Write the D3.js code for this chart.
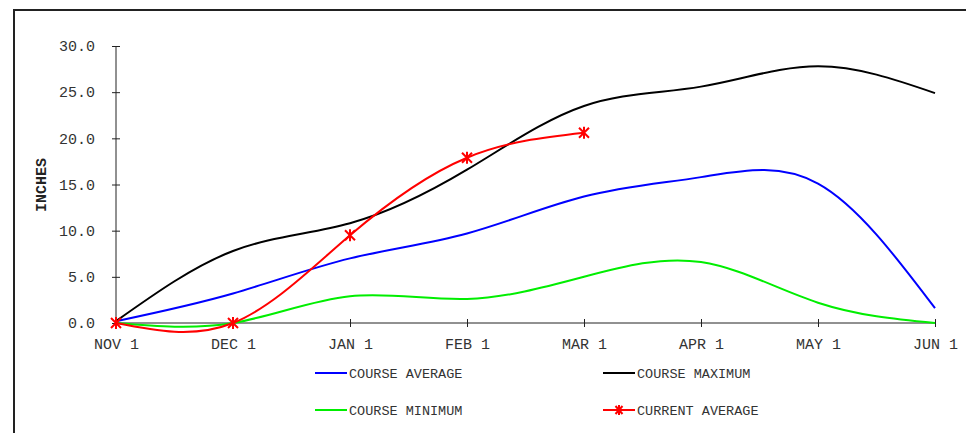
<html>
<head>
<meta charset="utf-8">
<script src="https://d3js.org/d3.v7.min.js"></script>
<style>
body { margin: 0; background: #fff; }
text { font-family: "Liberation Mono", "Courier New", monospace; fill: #333; }
</style>
</head>
<body>
<script>
var months = ["NOV 1", "DEC 1", "JAN 1", "FEB 1", "MAR 1", "APR 1", "MAY 1", "JUN 1"];
var yTicks = [0, 5, 10, 15, 20, 25, 30];

var courseAverage = [0.2, 3.2, 7.0, 9.7, 13.7, 15.8, 15.1, 1.6];
var courseMaximum = [0.2, 7.8, 10.8, 16.6, 23.5, 25.6, 27.8, 24.9];
var courseMinimum = [0.0, 0.0, 2.9, 2.6, 5.0, 6.6, 2.2, 0.0];
var currentAverage = [0.0, 0.0, 9.5, 17.9, 20.6];

var series = [
  {name: "COURSE AVERAGE", color: "#0000ff", values: courseAverage},
  {name: "COURSE MAXIMUM", color: "#000000", values: courseMaximum},
  {name: "COURSE MINIMUM", color: "#00ee00", values: courseMinimum},
  {name: "CURRENT AVERAGE", color: "#ff0000", values: currentAverage, marker: true}
];

var width = 966, height = 433;

var svg = d3.select("body").append("svg")
    .attr("width", width)
    .attr("height", height);

// frame
svg.append("rect")
    .attr("x", 14).attr("y", 10)
    .attr("width", 1000).attr("height", 500)
    .attr("fill", "none")
    .attr("stroke", "#222")
    .attr("stroke-width", 2);

var x = d3.scalePoint().domain(months).range([116, 935]);
var y = d3.scaleLinear().domain([0, 30]).range([323, 46]);

// y axis
var yAxis = svg.append("g")
    .attr("transform", "translate(116,0)")
    .call(d3.axisLeft(y).tickValues(yTicks).tickFormat(d3.format(".1f")).tickSize(4).tickPadding(17));
yAxis.selectAll(".tick line").attr("x1", 4).attr("x2", -4).attr("stroke", "#222");
yAxis.select(".domain").attr("stroke", "#222").attr("d", "M0," + y(30) + "V" + y(0));
yAxis.selectAll(".tick text")
    .style("font-family", "Liberation Mono, monospace")
    .style("font-size", "15px")
    .attr("fill", "#333");

// x axis
var xAxis = svg.append("g")
    .attr("transform", "translate(0," + y(0) + ")")
    .call(d3.axisBottom(x).tickSize(4).tickPadding(11));
xAxis.selectAll(".tick line").attr("y1", -4).attr("y2", 4).attr("stroke", "#222");
xAxis.select(".domain").attr("stroke", "#222").attr("d", "M" + x(months[0]) + ",0H" + x(months[months.length - 1]));
xAxis.selectAll(".tick text")
    .style("font-family", "Liberation Mono, monospace")
    .style("font-size", "15px")
    .attr("fill", "#333");

// y label
svg.append("text")
    .attr("transform", "translate(46,185) rotate(-90)")
    .style("text-anchor", "middle")
    .style("font-size", "15px")
    .style("font-weight", "bold")
    .style("fill", "#222")
    .text("INCHES");

var line = d3.line()
    .x(function(d, i) { return x(months[i]); })
    .y(function(d) { return y(d); })
    .curve(d3.curveNatural);

var star = "M-5,-5L5,5M-5,5L5,-5M0,-6L0,6";

series.forEach(function(s) {
  svg.append("path")
      .attr("d", line(s.values))
      .attr("fill", "none")
      .attr("stroke", s.color)
      .attr("stroke-width", 2);
  if (s.marker) {
    svg.selectAll(null)
        .data(s.values)
      .enter().append("path")
        .attr("transform", function(d, i) { return "translate(" + x(months[i]) + "," + y(d) + ")"; })
        .attr("d", star)
        .attr("fill", "none")
        .attr("stroke", s.color)
        .attr("stroke-width", 2);
  }
});

// legend
var legendPos = [[315, 373], [603, 373], [315, 410], [603, 410]];
series.forEach(function(s, i) {
  var lx = legendPos[i][0], ly = legendPos[i][1];
  svg.append("line")
      .attr("x1", lx).attr("x2", lx + 32)
      .attr("y1", ly).attr("y2", ly)
      .attr("stroke", s.color)
      .attr("stroke-width", 2);
  if (s.marker) {
    svg.append("path")
        .attr("transform", "translate(" + (lx + 16) + "," + ly + ")")
        .attr("d", "M-3.5,-4L3.5,4M-3.5,4L3.5,-4M0,-5L0,5")
        .attr("fill", "none")
        .attr("stroke", s.color)
        .attr("stroke-width", 2);
  }
  svg.append("text")
      .attr("x", lx + 34)
      .attr("y", ly)
      .attr("dy", "0.35em")
      .style("font-size", "13.5px")
      .text(s.name);
});
</script>
</body>
</html>
